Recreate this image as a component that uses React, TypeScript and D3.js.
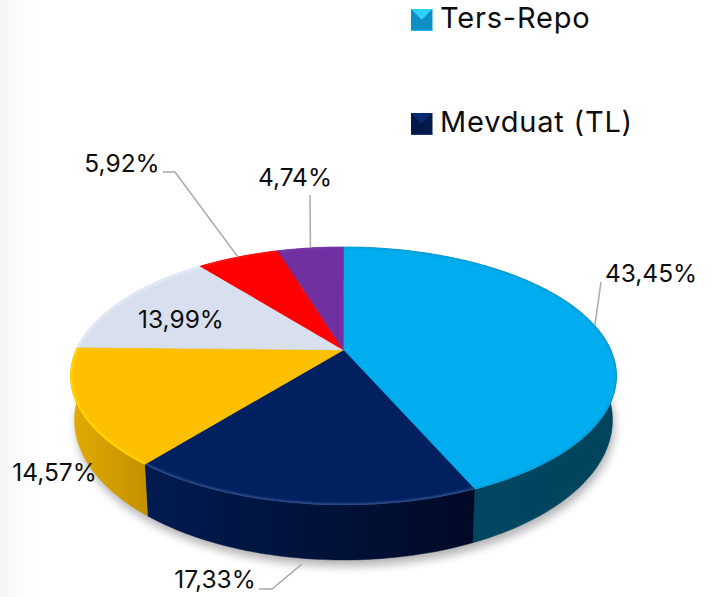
import React from "react";
import * as d3 from "d3";

const shares = [43.45, 17.33, 14.57, 13.99, 5.92, 4.74];
const shareLabels = ["43,45%", "17,33%", "14,57%", "13,99%", "5,92%", "4,74%"];
const topColors = ["#00adef", "#002060", "#fdc000", "#d8dfee", "#ff0000", "#7030a0"];
const rimColors = ["#0a93c8", "#46659f", "#ffe000", "#eef3ff", "#ff2020", "#7d3ab0"];
const rimOpacity = [0.55, 0.75, 0.95, 0.8, 0.6, 0.6];
const sideStart = ["#004a66", "#001b50", "#e2ab00", "#aab0bd", "#b00000", "#4e2270"];
const sideEnd = ["#00435c", "#000a26", "#c59200", "#aab0bd", "#b00000", "#4e2270"];
const legendNames = ["Ters-Repo", "Mevduat (TL)"];
const legendLight = ["#2fd0fb", "#0a2a70"];
const legendDark = ["#0e8fc4", "#04184a"];

const W = 711, H = 597;
const CX = 343.5, P = 0.2016;
const CY = 350, KX = 267.4, KY = 123.8;
const CY_LOW = 391.8, KX_LOW = 263.5, KY_LOW = 134.3;
const FONT = "Inter, 'Noto Sans', sans-serif";

function project(a: number, lower = false): [number, number] {
  const u = Math.sin(a), v = -Math.cos(a), d = 1 - P * v;
  return lower
    ? [CX + (KX_LOW * u) / d, CY_LOW + (KY_LOW * v) / d]
    : [CX + (KX * u) / d, CY + (KY * v) / d];
}
const apex: [number, number] = [CX, CY];
const lineGen = d3.line<[number, number]>();
const arcSamples = (a0: number, a1: number) => {
  const n = Math.max(2, Math.ceil((a1 - a0) / 0.02));
  return d3.range(n + 1).map((i) => a0 + ((a1 - a0) * i) / n);
};

const arcs = d3.pie<number>().sort(null).startAngle(0).endAngle(2 * Math.PI)(shares);

// label layout: [centre x, baseline y], and elbow points for leader lines
const labelPos: [number, number][] = [[651, 282], [215, 588], [54.5, 481], [181, 328], [122, 172], [295, 186]];
const elbows: ([number, number][] | null)[] = [
  [[601, 282]],
  [[272, 589], [259, 589]],
  null,
  null,
  [[175, 172], [163, 172]],
  [[310, 195]],
];

export default function App() {
  return (
    <svg width={W} height={H} viewBox={`0 0 ${W} ${H}`} style={{ position: "absolute", left: 0, top: 0, background: "#fff" }}>
      <defs>
        <linearGradient id="strip" x1="0" x2="1" y1="0" y2="0">
          <stop offset="0" stopColor="#f6f6f6" />
          <stop offset="1" stopColor="#ffffff" />
        </linearGradient>
        <filter id="shadow" x="-10%" y="-20%" width="120%" height="140%"><feGaussianBlur stdDeviation="5" /></filter>
        <filter id="rimBlur" x="-10%" y="-10%" width="120%" height="120%"><feGaussianBlur stdDeviation="1.2" /></filter>
        {arcs.map((d, i) => {
          const pts = arcSamples(d.startAngle, d.endAngle).map((a) => project(a));
          const xs = pts.map((p) => p[0]);
          return (
            <React.Fragment key={i}>
              <linearGradient id={`side${i}`} gradientUnits="userSpaceOnUse" x1={d3.min(xs)} x2={d3.max(xs)} y1={0} y2={0}>
                <stop offset="0" stopColor={sideStart[i]} />
                <stop offset="1" stopColor={sideEnd[i]} />
              </linearGradient>
              <clipPath id={`clip${i}`}>
                <path d={(lineGen([apex, ...pts]) ?? "") + "Z"} />
              </clipPath>
            </React.Fragment>
          );
        })}
      </defs>
      <rect x={0} y={0} width={36} height={H} fill="url(#strip)" />

      {/* soft shadow */}
      <path
        d={(lineGen(arcSamples(0, 2 * Math.PI).map((a) => { const p = project(a, true); return [p[0] + 2, p[1] + 6] as [number, number]; })) ?? "") + "Z"}
        fill="#000" opacity={0.3} filter="url(#shadow)"
      />

      {/* sides */}
      {arcs.map((d, i) => {
        const as = arcSamples(d.startAngle, d.endAngle);
        const outline = [...as.map((a) => project(a)), ...as.slice().reverse().map((a) => project(a, true))];
        return <path key={i} d={(lineGen(outline) ?? "") + "Z"} fill={`url(#side${i})`} stroke={`url(#side${i})`} strokeWidth={0.4} />;
      })}

      {/* top faces with bevelled rim */}
      {arcs.map((d, i) => {
        const pts = arcSamples(d.startAngle, d.endAngle).map((a) => project(a));
        return (
          <g key={i}>
            <path d={(lineGen([apex, ...pts]) ?? "") + "Z"} fill={topColors[i]} stroke={topColors[i]} strokeWidth={0.4} />
            <g clipPath={`url(#clip${i})`}>
              <path d={lineGen(pts) ?? ""} fill="none" stroke={rimColors[i]} strokeOpacity={rimOpacity[i]} strokeWidth={3} filter="url(#rimBlur)" />
            </g>
          </g>
        );
      })}

      {/* leader lines */}
      {arcs.map((d, i) => {
        const e = elbows[i];
        if (!e) return null;
        const mid = (d.startAngle + d.endAngle) / 2;
        const anchor = project(mid, i === 1);
        const start: [number, number] = i === 1 ? [anchor[0] + 2, anchor[1] + 6] : anchor;
        return <path key={i} d={lineGen([start, ...e]) ?? ""} fill="none" stroke="#a9a9a9" strokeWidth={1.5} />;
      })}

      {/* data labels */}
      {shareLabels.map((t, i) => (
        <text key={t} x={labelPos[i][0]} y={labelPos[i][1]} textAnchor="middle" fontFamily={FONT} fontSize={24.5} fontWeight={400} fill="#0d0d0d">{t}</text>
      ))}

      {/* legend */}
      {legendNames.map((name, i) => {
        const x = 411, y = i === 0 ? 9 : 113, s = 21.5;
        const m = s / 2;
        return (
          <g key={name}>
            <rect x={x} y={y} width={s} height={s} fill={legendDark[i]} />
            <path d={`M${x},${y}H${x + s}L${x + m},${y + m}Z`} fill={legendLight[i]} />
            <path d={`M${x},${y + s}H${x + s}L${x + m},${y + m}Z`} fill={legendDark[i]} opacity={0.85} />
            <rect x={x} y={y + s - 1} width={s} height={1} fill={topColors[i === 0 ? 0 : 1]} />
            <text x={440} y={i === 0 ? 27.5 : 132} fontFamily={FONT} fontSize={29} letterSpacing={0.8} fill="#0d0d0d">{name}</text>
          </g>
        );
      })}
    </svg>
  );
}
